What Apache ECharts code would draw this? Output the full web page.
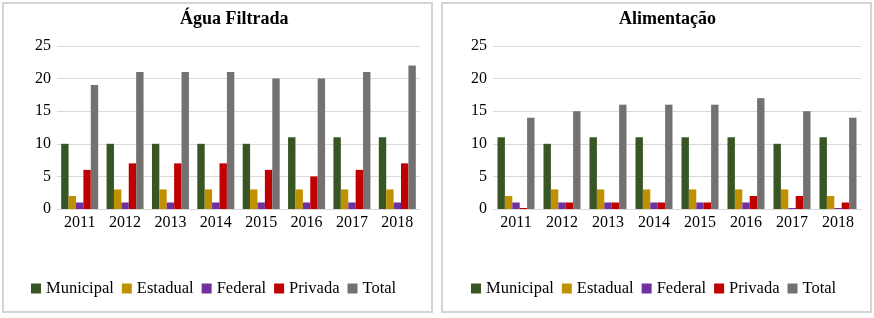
<!DOCTYPE html>
<html>
<head>
<meta charset="utf-8">
<script src="https://cdn.jsdelivr.net/npm/echarts@6/dist/echarts.min.js"></script>
<style>
  html, body { margin: 0; padding: 0; background: #fff; }
  #chart { width: 874px; height: 318px; }
</style>
</head>
<body>
<div id="chart"></div>
<script>
const years = ['2011', '2012', '2013', '2014', '2015', '2016', '2017', '2018'];
const seriesNames = ['Municipal', 'Estadual', 'Federal', 'Privada', 'Total'];
const colors = ['#375623', '#bf9000', '#7030a0', '#c00000', '#767171'];

// Água Filtrada
const aguaMunicipal = [10, 10, 10, 10, 10, 11, 11, 11];
const aguaEstadual = [2, 3, 3, 3, 3, 3, 3, 3];
const aguaFederal = [1, 1, 1, 1, 1, 1, 1, 1];
const aguaPrivada = [6, 7, 7, 7, 6, 5, 6, 7];
const aguaTotal = [19, 21, 21, 21, 20, 20, 21, 22];

// Alimentação
const alimMunicipal = [11, 10, 11, 11, 11, 11, 10, 11];
const alimEstadual = [2, 3, 3, 3, 3, 3, 3, 2];
const alimFederal = [1, 1, 1, 1, 1, 1, 0, 0];
const alimPrivada = [0, 1, 1, 1, 1, 2, 2, 1];
const alimTotal = [14, 15, 16, 16, 16, 17, 15, 14];

const font = 'Liberation Serif';
const chart = echarts.init(document.getElementById('chart'));

function axesFor(idx) {
  return {
    x: {
      type: 'category',
      gridIndex: idx,
      data: years,
      axisTick: { show: false },
      axisLine: { lineStyle: { color: '#d9d9d9', width: 1 } },
      axisLabel: { color: '#000', fontFamily: font, fontSize: 16, margin: 6 },
    },
    y: {
      type: 'value',
      gridIndex: idx,
      min: 0,
      max: 25,
      interval: 5,
      axisLine: { show: false },
      axisTick: { show: false },
      splitLine: { lineStyle: { color: '#d9d9d9', width: 1 } },
      axisLabel: { color: '#000', fontFamily: font, fontSize: 16, margin: 6 },
    },
  };
}

function barsFor(idx, arrays) {
  return arrays.map((arr, i) => ({
    name: seriesNames[i],
    type: 'bar',
    xAxisIndex: idx,
    yAxisIndex: idx,
    data: arr,
    barWidth: 7.4,
    barGap: '0%',
    barMinHeight: 1,
    itemStyle: { color: colors[i] },
    emphasis: { disabled: true },
  }));
}

const a0 = axesFor(0);
const a1 = axesFor(1);

const legendBase = {
  data: seriesNames,
  icon: 'rect',
  itemWidth: 10,
  itemHeight: 10,
  itemGap: 8,
  top: 275,
  textStyle: { color: '#000', fontFamily: font, fontSize: 16.5 },
};

const titleStyle = { fontFamily: font, fontSize: 18, fontWeight: 'bold', color: '#000' };

chart.setOption({
  animation: false,
  color: colors,
  graphic: [
    { type: 'rect', shape: { x: 3, y: 3, width: 429, height: 309 }, style: { fill: 'none', stroke: '#d4d4d4', lineWidth: 2 }, silent: true },
    { type: 'rect', shape: { x: 442, y: 3, width: 429, height: 309 }, style: { fill: 'none', stroke: '#d4d4d4', lineWidth: 2 }, silent: true },
  ],
  title: [
    { text: 'Água Filtrada', left: 175, top: 5, textStyle: titleStyle },
    { text: 'Alimentação', left: 614, top: 5, textStyle: titleStyle },
  ],
  legend: [
    Object.assign({}, legendBase, { left: 26 }),
    Object.assign({}, legendBase, { left: 466 }),
  ],
  grid: [
    { left: 57, top: 46, width: 363, height: 163 },
    { left: 493, top: 46, width: 368, height: 163 },
  ],
  xAxis: [a0.x, a1.x],
  yAxis: [a0.y, a1.y],
  series: [
    ...barsFor(0, [aguaMunicipal, aguaEstadual, aguaFederal, aguaPrivada, aguaTotal]),
    ...barsFor(1, [alimMunicipal, alimEstadual, alimFederal, alimPrivada, alimTotal]),
  ],
});
</script>
</body>
</html>
